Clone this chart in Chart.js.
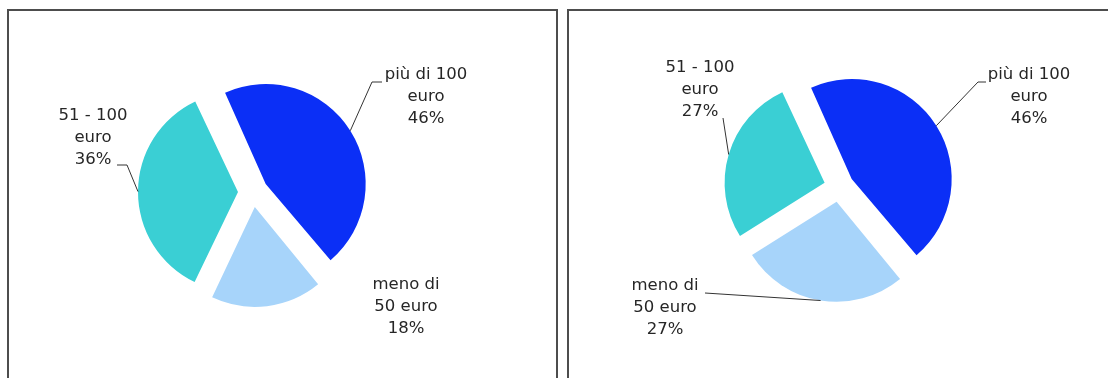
<!DOCTYPE html>
<html>
<head>
<meta charset="utf-8">
<script src="https://cdn.jsdelivr.net/npm/chart.js@4/dist/chart.umd.min.js"></script>
<style>
  html, body { margin: 0; padding: 0; background: #fff; width: 1108px; height: 378px; overflow: hidden; }
  .box { position: absolute; top: 9px; height: 420px; border: 2px solid #4d4d4d; box-sizing: border-box; background: #fff; }
  #boxA { left: 7px; width: 551px; }
  #boxB { left: 567px; width: 560px; }
  canvas { position: absolute; left: 0; top: 0; }
</style>
</head>
<body>
<div class="box" id="boxA"><canvas id="pieA" width="546" height="367"></canvas></div>
<div class="box" id="boxB"><canvas id="pieB" width="532" height="367"></canvas></div>
<script>
// categories (multi-line labels, as in the picture)
var categories = [["più di 100", "euro"], ["meno di", "50 euro"], ["51 - 100", "euro"]];
var valuesA = [46, 18, 36];
var valuesB = [46, 27, 27];
var colors = ["#0b2ff6", "#a7d4fa", "#3acfd4"];

// label placement relative to pie centre: text centre (dx, first line dy), leader elbow and end
var labelsA = [
  { dx: 173, dy: -117, elbow: [119, -110], end: [129, -110] },
  { dx: 153, dy: 93, elbow: null },
  { dx: -160, dy: -76, elbow: [-126, -27], end: [-136, -27] }
];
var labelsB = [
  { dx: 190, dy: -112, elbow: [139, -105], end: [147, -105] },
  { dx: -174, dy: 99, elbow: [-134, 106], end: [-134, 106] },
  { dx: -139, dy: -119, elbow: [-116, -69], end: [-116, -69] }
];

var EXPLODE = 15;   // px each slice is pulled out

// keep every exploded slice at the same radius (Chart.js grows the wide ones)
var evenRadius = {
  id: 'evenRadius',
  beforeDatasetDraw: function(chart, args) {
    var meta = args.meta;
    var base = meta.controller.outerRadius;
    meta.data.forEach(function(arc) {
      var fix = 1 - Math.sin(Math.min(Math.PI, arc.circumference));
      arc.outerRadius = base - fix * EXPLODE;
    });
  }
};

var sliceLabels = {
  id: 'sliceLabels',
  afterDatasetsDraw: function(chart, args, opts) {
    var ctx = chart.ctx;
    var meta = chart.getDatasetMeta(0);
    var vals = chart.data.datasets[0].data;
    ctx.save();
    ctx.font = '16.5px "DejaVu Sans", Verdana, sans-serif';
    ctx.fillStyle = '#262626';
    ctx.strokeStyle = '#333';
    ctx.lineWidth = 1;
    ctx.textAlign = 'center';
    ctx.textBaseline = 'middle';
    meta.data.forEach(function(arc, i) {
      var cx = arc.x, cy = arc.y;
      var lay = opts.layout[i];
      var mid = (arc.startAngle + arc.endAngle) / 2;
      var rr = meta.controller.outerRadius + EXPLODE;
      if (lay.elbow) {
        ctx.beginPath();
        ctx.moveTo(cx + Math.cos(mid) * rr, cy + Math.sin(mid) * rr);
        ctx.lineTo(cx + lay.elbow[0], cy + lay.elbow[1]);
        ctx.lineTo(cx + lay.end[0], cy + lay.end[1]);
        ctx.stroke();
      }
      var lines = chart.data.labels[i].concat([vals[i] + '%']);
      lines.forEach(function(t, k) {
        ctx.fillText(t, cx + lay.dx, cy + lay.dy + k * 22);
      });
    });
    ctx.restore();
  }
};

function makePie(id, values, layout, pad) {
  return new Chart(document.getElementById(id), {
    type: 'pie',
    data: {
      labels: categories,
      datasets: [{
        data: values,
        backgroundColor: colors,
        borderWidth: 0,
        offset: EXPLODE * 4
      }]
    },
    options: {
      responsive: false,
      animation: false,
      rotation: -25,
      radius: 100,
      layout: { padding: pad },
      events: [],
      plugins: {
        legend: { display: false },
        tooltip: { enabled: false },
        sliceLabels: { layout: layout }
      }
    },
    plugins: [evenRadius, sliceLabels]
  });
}

makePie('pieA', valuesA, labelsA, { left: 0, right: 58, top: 0, bottom: 5 });
makePie('pieB', valuesB, labelsB, { left: 8, right: 0, top: 0, bottom: 15 });
</script>
</body>
</html>
